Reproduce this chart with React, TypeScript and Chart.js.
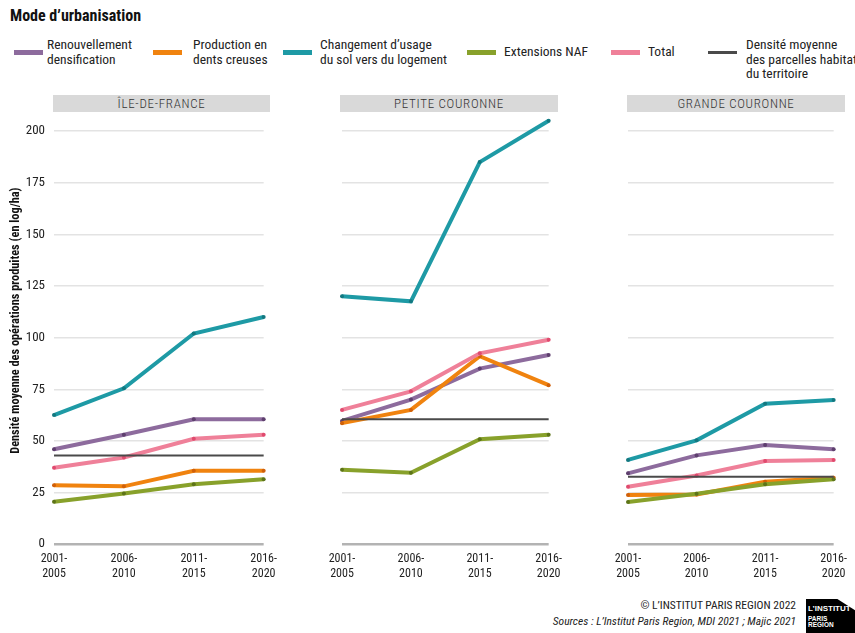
import React, { useEffect, useRef } from "react";
import { Chart, registerables } from "chart.js";
Chart.register(...registerables);

const FONT = "'Liberation Sans Narrow', 'Roboto Condensed', Roboto, 'Liberation Sans', sans-serif";

// ---- data ----
const periods = [["2001-", "2005"], ["2006-", "2010"], ["2011-", "2015"], ["2016-", "2020"]];
const panelTitles = ["ÎLE-DE-FRANCE", "PETITE COURONNE", "GRANDE COURONNE"];
const seriesNames = [
  "Renouvellement densification",
  "Production en dents creuses",
  "Changement d’usage du sol vers du logement",
  "Extensions NAF",
  "Total",
  "Densité moyenne des parcelles habitat du territoire",
];
const seriesColors = ["#8d6b9d", "#f0830f", "#1e9aa5", "#88a12b", "#ef8099", "#4a4a4a"];
const pointColors = ["#5e3f6e", "#d0600a", "#137880", "#5d7418", "#e04a6e", "#333333"];

// Île-de-France
const idfRenouvellement = [46, 53, 60.5, 60.5];
const idfDentsCreuses = [28.5, 28, 35.5, 35.5];
const idfChangement = [62.5, 75.5, 102, 110];
const idfExtensions = [20.5, 24.5, 29, 31.5];
const idfTotal = [37, 42, 51, 53];
const idfDensite = [43, 43, 43, 43];

// Petite couronne
const pcRenouvellement = [59.7, 70, 85, 91.6];
const pcDentsCreuses = [58.6, 65, 91, 77];
const pcChangement = [120, 117.6, 185, 205];
const pcExtensions = [36, 34.6, 50.8, 53];
const pcTotal = [65, 74, 92.4, 99];
const pcDensite = [60.5, 60.5, 60.5, 60.5];

// Grande couronne
const gcRenouvellement = [34.3, 43, 48, 46];
const gcDentsCreuses = [23.8, 24.1, 30.2, 32.2];
const gcChangement = [40.8, 50.3, 68, 69.8];
const gcExtensions = [20.4, 24.4, 29, 31.4];
const gcTotal = [27.8, 33.3, 40.3, 40.8];
const gcDensite = [32.7, 32.7, 32.7, 32.7];

const panelData = [
  [idfRenouvellement, idfDentsCreuses, idfChangement, idfExtensions, idfTotal, idfDensite],
  [pcRenouvellement, pcDentsCreuses, pcChangement, pcExtensions, pcTotal, pcDensite],
  [gcRenouvellement, gcDentsCreuses, gcChangement, gcExtensions, gcTotal, gcDensite],
];

const yTicks = [0, 25, 50, 75, 100, 125, 150, 175, 200];
const yMin = 0;
const yMax = 216.5;
const yTitle = "Densité moyenne des opérations produites (en log/ha)";

// ---- layout ----
const CANVAS_TOP = 80;
const CANVAS_H = 509;
const PAD_TOP = 17;
const panelBoxes = [
  { left: 0, width: 285, padLeft: 0, padRight: 17, yAxisWidth: 54 },
  { left: 300, width: 270, padLeft: 42, padRight: 15, yAxisWidth: 0 },
  { left: 586, width: 269, padLeft: 42, padRight: 14, yAxisWidth: 0 },
];
const strips = [
  { left: 53, width: 217 },
  { left: 340, width: 218 },
  { left: 627, width: 218 },
];

function Panel({ idx }: { idx: number }) {
  const ref = useRef<HTMLCanvasElement>(null);
  useEffect(() => {
    const box = panelBoxes[idx];
    const showY = idx === 0;
    const data = panelData[idx];
    const chart = new Chart(ref.current as HTMLCanvasElement, {
      type: "line",
      data: {
        labels: periods,
        datasets: data.map((vals, i) => ({
          label: seriesNames[i],
          data: vals,
          borderColor: seriesColors[i],
          backgroundColor: seriesColors[i],
          borderWidth: i === 5 ? 2 : 4,
          pointRadius: i === 5 ? 0 : 2,
          pointBackgroundColor: pointColors[i],
          pointBorderWidth: 0,
          tension: 0,
          order: 6 - i,
          clip: false,
        })),
      },
      options: {
        animation: false,
        responsive: false,
        maintainAspectRatio: false,
        layout: { padding: { top: PAD_TOP, bottom: 0, left: box.padLeft, right: box.padRight } },
        plugins: { legend: { display: false }, tooltip: { enabled: false }, title: { display: false } },
        scales: {
          x: {
            type: "category",
            offset: false,
            grid: { display: false, drawTicks: false },
            border: { display: false },
            ticks: {
              color: "#222",
              font: { family: FONT, size: 12 },
              padding: 8,
              maxRotation: 0,
              autoSkip: false,
            },
          },
          y: {
            min: yMin,
            max: yMax,
            afterBuildTicks: (s: any) => {
              s.ticks = yTicks.map((v) => ({ value: v }));
            },
            afterFit: (s: any) => {
              s.width = box.yAxisWidth;
            },
            grid: {
              drawTicks: false,
              color: (c: any) => (c.tick && c.tick.value === 0 ? "#b3b3b3" : "#e3e3e3"),
              lineWidth: (c: any) => (c.tick && c.tick.value === 0 ? 2.5 : 1.5),
            },
            border: { display: false },
            ticks: {
              display: showY,
              color: "#222",
              font: { family: FONT, size: 13 },
              padding: 9,
            },
            title: {
              display: showY,
              text: yTitle,
              color: "#111",
              font: { family: FONT, size: 12.3, weight: "bold" },
              padding: { top: 9, bottom: 0 },
            },
          },
        },
      },
    } as any);
    return () => chart.destroy();
  }, [idx]);
  const box = panelBoxes[idx];
  return (
    <canvas
      ref={ref}
      width={box.width}
      height={CANVAS_H}
      style={{ position: "absolute", left: box.left, top: CANVAS_TOP, width: box.width, height: CANVAS_H }}
    />
  );
}

const legendItems = [
  { swatch: 14, text: 47, lines: ["Renouvellement", "densification"] },
  { swatch: 153, text: 193, lines: ["Production en", "dents creuses"] },
  { swatch: 283, text: 320, lines: ["Changement d’usage", "du sol vers du logement"] },
  { swatch: 467, text: 504, lines: ["Extensions NAF"] },
  { swatch: 611, text: 648, lines: ["Total"] },
  { swatch: 708, text: 746, lines: ["Densité moyenne", "des parcelles habitat", "du territoire"] },
];

export default function App() {
  return (
    <div
      style={{
        position: "absolute",
        left: 0,
        top: 0,
        width: 855,
        height: 633,
        background: "#fff",
        overflow: "hidden",
        fontFamily: FONT,
      }}
    >
      <div style={{ position: "absolute", left: 10, top: 6, fontSize: 16, fontWeight: "bold", color: "#111" }}>
        Mode d’urbanisation
      </div>
      {legendItems.map((it, i) => {
        const lh = 14.5;
        const top = it.lines.length === 1 ? 52 - lh / 2 : 52 - lh;
        return (
          <React.Fragment key={i}>
            <div
              style={{
                position: "absolute",
                left: it.swatch,
                top: i === 5 ? 51 : 50,
                width: 29,
                height: i === 5 ? 3 : 5,
                background: seriesColors[i],
              }}
            />
            <div
              style={{
                position: "absolute",
                left: it.text,
                top: top - 0.5,
                fontSize: 13.5,
                lineHeight: lh + "px",
                color: "#222",
                whiteSpace: "nowrap",
              }}
            >
              {it.lines.map((l, j) => (
                <div key={j}>{l}</div>
              ))}
            </div>
          </React.Fragment>
        );
      })}
      {strips.map((s, i) => (
        <div
          key={i}
          style={{
            position: "absolute",
            left: s.left,
            top: 95,
            width: s.width,
            height: 17,
            background: "#d9d9d9",
            color: "#333",
            fontSize: 13,
            fontWeight: 300,
            letterSpacing: "0.7px",
            lineHeight: "17px",
            textAlign: "center",
          }}
        >
          {panelTitles[i]}
        </div>
      ))}
      {[0, 1, 2].map((i) => (
        <Panel key={i} idx={i} />
      ))}
      <div
        style={{
          position: "absolute",
          right: 855 - 796,
          top: 597,
          textAlign: "right",
          fontSize: 11.5,
          lineHeight: "16px",
          color: "#222",
          whiteSpace: "nowrap",
        }}
      >
        <div>© L’INSTITUT PARIS REGION 2022</div>
        <div style={{ fontStyle: "italic" }}>Sources : L’Institut Paris Region, MDI 2021 ; Majic 2021</div>
      </div>
      <div
        style={{
          position: "absolute",
          left: 806,
          top: 599,
          width: 49,
          height: 34,
          background: "#000",
          clipPath: "polygon(0 0, 64% 0, 100% 33%, 100% 100%, 0 100%)",
          color: "#fff",
          fontWeight: "bold",
          fontFamily: "'Liberation Sans Narrow', 'Liberation Sans', sans-serif",
        }}
      >
        <div style={{ position: "absolute", left: 2, top: 6, fontSize: 8, lineHeight: "8px" }}>L’INSTITUT</div>
        <div style={{ position: "absolute", left: 2, top: 17, fontSize: 6.5, lineHeight: "6px" }}>PARIS</div>
        <div style={{ position: "absolute", left: 2, top: 23, fontSize: 6.5, lineHeight: "6px" }}>REGION</div>
      </div>
    </div>
  );
}
